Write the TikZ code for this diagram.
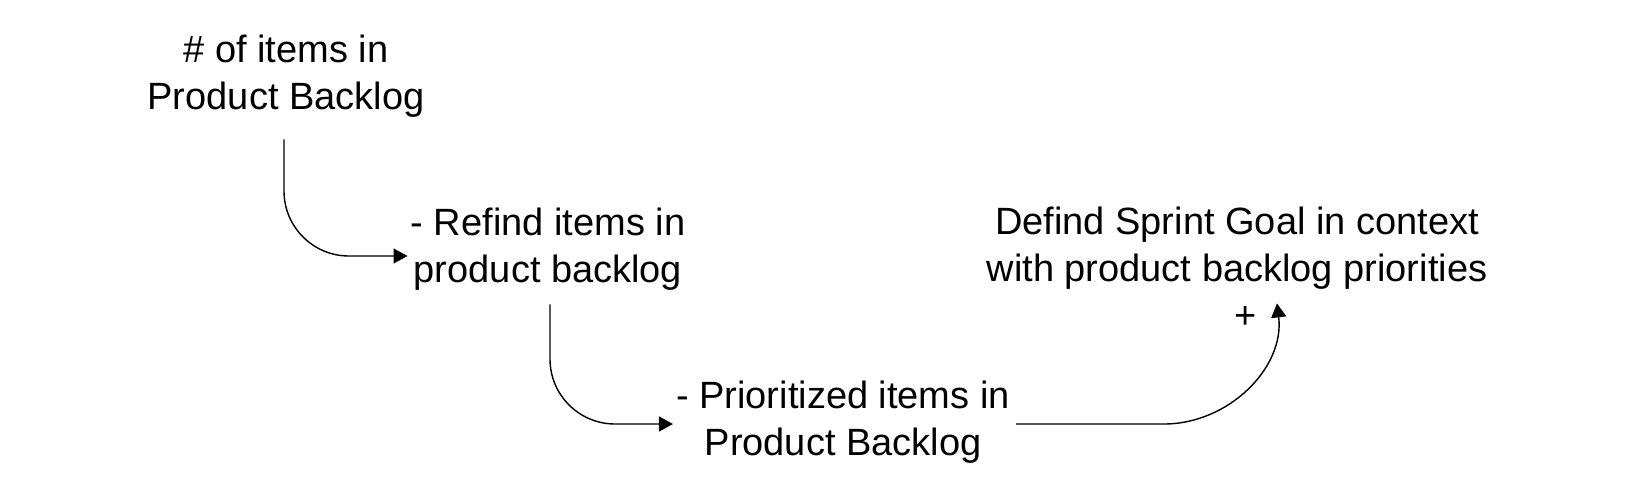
\documentclass[tikz,border=0pt]{standalone}
\usepackage{fontspec}
\setmainfont{Liberation Sans}
\usetikzlibrary{arrows.meta}
\begin{document}
\begin{tikzpicture}[x=1pt,y=-1pt,
  lbl/.style={align=center, font=\fontsize{38}{47}\selectfont, inner sep=0pt},
  arr/.style={line width=1.4pt, -{Triangle[length=14pt,width=15pt]}}]
\useasboundingbox (0,0) rectangle (1650,482);
\node[lbl] (A) at (286,76) {\# of items in\\Product Backlog};
\node[lbl] (B) at (548,249) {- Refind items in\\product backlog};
\node[lbl] (C) at (843,422) {- Prioritized items in\\Product Backlog};
\node[lbl] (D) at (1237,248) {Defind Sprint Goal in context\\with product backlog priorities};
\node[lbl] (P) at (1246,318) {+};
\draw[arr, rounded corners=65pt] ([xshift=-2pt,yshift=-22pt]A.south) |- ([xshift=-3pt,yshift=-7pt]B.west);
\draw[arr, rounded corners=65pt] ([xshift=2pt,yshift=-14pt]B.south) |- ([xshift=-3pt,yshift=-2pt]C.west);
\draw[arr] ([xshift=6pt,yshift=-2pt]C.east) -- ++(148,0) to[out=0,in=-83] ([xshift=40pt,yshift=-14pt]D.south);
\end{tikzpicture}
\end{document}
